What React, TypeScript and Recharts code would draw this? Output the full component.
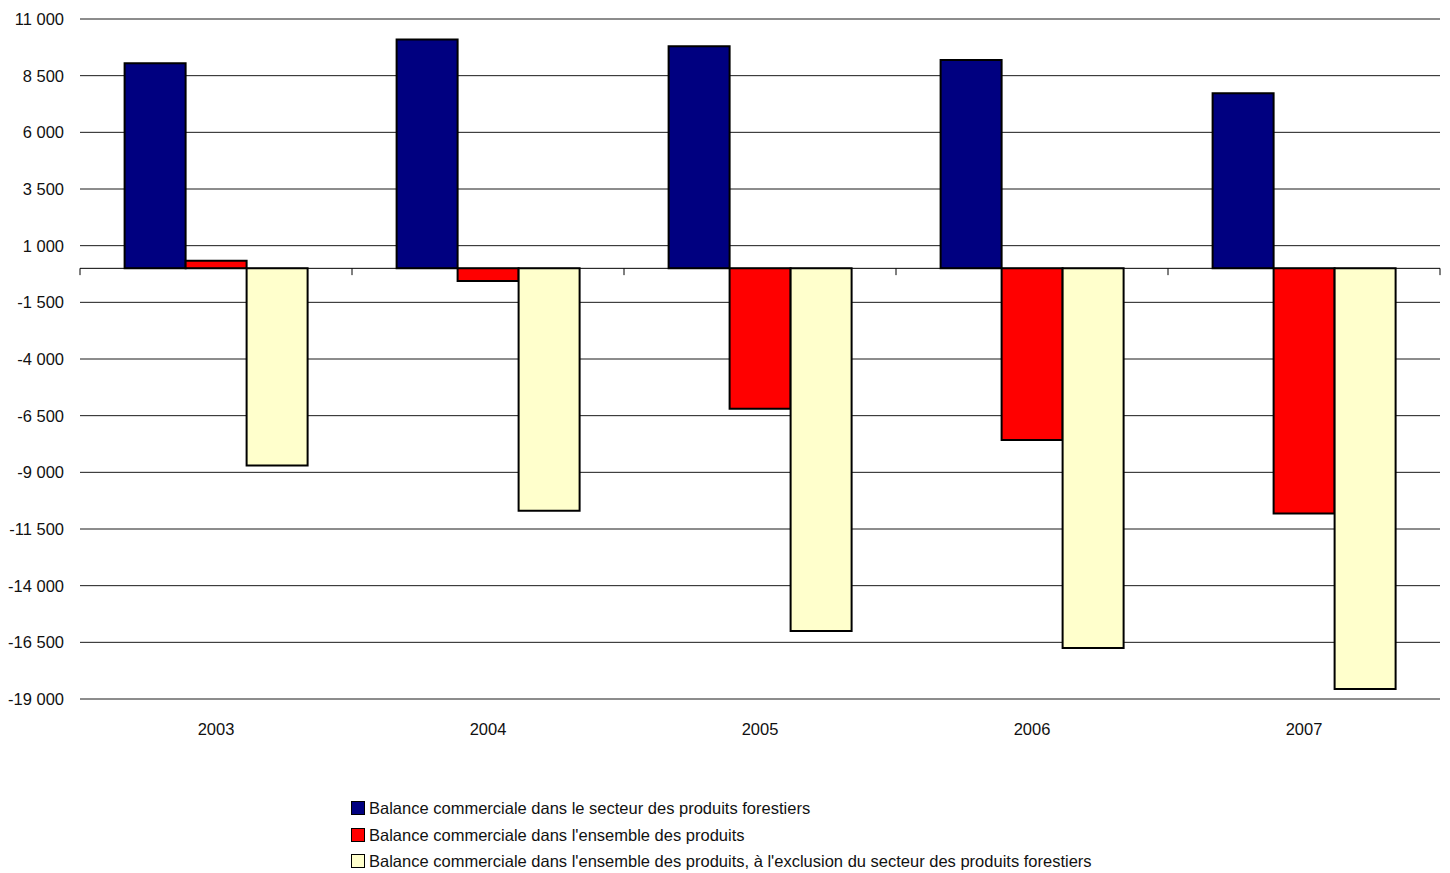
import { BarChart, Bar, XAxis, YAxis, CartesianGrid, ReferenceLine } from 'recharts';

const years = ['2003', '2004', '2005', '2006', '2007'];
const forestSector = [9050, 10100, 9800, 9190, 7720];
const allProducts = [330, -560, -6200, -7570, -10820];
const excludingForest = [-8700, -10700, -16000, -16750, -18560];
const yTicks = [11000, 8500, 6000, 3500, 1000, -1500, -4000, -6500, -9000, -11500, -14000, -16500, -19000];

const seriesNames = [
  'Balance commerciale dans le secteur des produits forestiers',
  "Balance commerciale dans l'ensemble des produits",
  "Balance commerciale dans l'ensemble des produits, à l'exclusion du secteur des produits forestiers",
];
const seriesColors = ['#000080', '#ff0000', '#ffffcc'];

const data = years.map((year, i) => ({
  year,
  forest: forestSector[i],
  all: allProducts[i],
  excl: excludingForest[i],
}));

// small tick marks hanging from the zero line at category edges
const edges: { x: string; pos: 'start' | 'end' }[] = [
  ...years.map((y) => ({ x: y, pos: 'start' as const })),
  { x: years[years.length - 1], pos: 'end' },
];

const font = '"Liberation Sans", Arial, sans-serif';

function fmt(v: number) {
  const s = Math.abs(v).toString().replace(/\B(?=(\d{3})+(?!\d))/g, ' ');
  return (v < 0 ? '-' : '') + s;
}

export default function App() {
  return (
    <div style={{ position: 'relative', width: 1450, height: 873, fontFamily: font }}>
      <style>{'body{margin:0}'}</style>
      <BarChart
        width={1450}
        height={873}
        data={data}
        margin={{ top: 19, right: 10, left: 0, bottom: 134 }}
        barCategoryGap="16.4%"
        barGap={0}
      >
        <CartesianGrid vertical={false} stroke="#1a1a1a" />
        <XAxis
          dataKey="year"
          height={40}
          axisLine={false}
          tickLine={false}
          tickMargin={18}
          tick={{ fill: '#111', fontSize: 16.5, fontFamily: font }}
        />
        <YAxis
          width={80}
          domain={[-19000, 11000]}
          ticks={yTicks}
          interval={0}
          axisLine={false}
          tickLine={false}
          tickMargin={10}
          tickFormatter={fmt}
          tick={{ fill: '#111', fontSize: 16.5, fontFamily: font }}
        />
        <ReferenceLine y={0} stroke="#000" strokeWidth={1} />
        {edges.map((e, i) => (
          <ReferenceLine
            key={i}
            segment={[{ x: e.x, y: 0 }, { x: e.x, y: -300 }]}
            position={e.pos}
            ifOverflow="visible"
            stroke="#000"
            strokeWidth={1}
          />
        ))}
        <Bar dataKey="forest" name={seriesNames[0]} fill={seriesColors[0]} stroke="#000" strokeWidth={2} isAnimationActive={false} />
        <Bar dataKey="all" name={seriesNames[1]} fill={seriesColors[1]} stroke="#000" strokeWidth={2} isAnimationActive={false} />
        <Bar dataKey="excl" name={seriesNames[2]} fill={seriesColors[2]} stroke="#000" strokeWidth={2} isAnimationActive={false} />
      </BarChart>
      <div style={{ position: 'absolute', left: 351, top: 795, fontSize: 16.5, color: '#111', lineHeight: '26.5px' }}>
        {seriesNames.map((name, i) => (
          <div key={name} style={{ display: 'flex', alignItems: 'center', whiteSpace: 'nowrap' }}>
            <span
              style={{
                display: 'inline-block',
                width: 12,
                height: 12,
                background: seriesColors[i],
                border: '1.5px solid #000',
                marginRight: 4,
              }}
            />
            <span>{name}</span>
          </div>
        ))}
      </div>
    </div>
  );
}
